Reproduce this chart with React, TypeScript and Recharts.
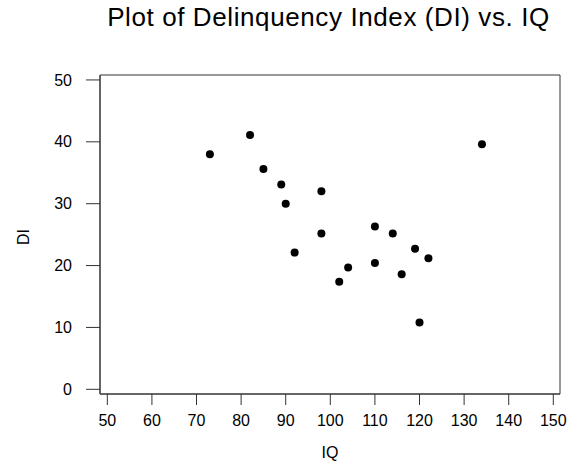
import React from "react";
import { ScatterChart, Scatter, XAxis, YAxis, ReferenceArea, Label } from "recharts";

const iqValues = [73, 82, 85, 89, 90, 92, 98, 98, 102, 104, 110, 110, 114, 116, 119, 120, 122, 134];
const diValues = [38.0, 41.1, 35.6, 33.1, 30.0, 22.1, 32.0, 25.2, 17.4, 19.7, 26.3, 20.4, 25.2, 18.6, 22.7, 10.8, 21.2, 39.6];
const xTicks = [50, 60, 70, 80, 90, 100, 110, 120, 130, 140, 150];
const yTicks = [0, 10, 20, 30, 40, 50];

const data = iqValues.map((iq, i) => ({ iq, di: diValues[i] }));

const FONT = "'Liberation Sans', Arial, sans-serif";
const X_DOMAIN: [number, number] = [48.36, 151.5];
const Y_DOMAIN: [number, number] = [-0.76, 50.8];

const Dot = (props: any) => <circle cx={props.cx} cy={props.cy} r={4} fill="#000" />;

export default function App() {
  return (
    <div style={{ position: "absolute", left: 0, top: 0, background: "#fff" }}>
      <ScatterChart width={567} height={466} margin={{ top: 75, right: 7, bottom: 0, left: 0 }}>
        <ReferenceArea
          x1={X_DOMAIN[0]}
          x2={X_DOMAIN[1]}
          y1={Y_DOMAIN[0]}
          y2={Y_DOMAIN[1]}
          fill="none"
          stroke="#333"
          strokeWidth={1}
          fillOpacity={0}
        />
        <XAxis
          dataKey="iq"
          type="number"
          domain={X_DOMAIN}
          ticks={xTicks}
          allowDataOverflow
          interval={0}
          height={72}
          tickSize={11}
          tickMargin={10}
          axisLine={{ stroke: "#333" }}
          tickLine={{ stroke: "#333" }}
          tick={{ fill: "#000", fontSize: 16, fontFamily: FONT }}
        >
          <Label value="IQ" position="insideBottom" offset={8} fill="#000" fontSize={16} fontFamily={FONT} />
        </XAxis>
        <YAxis
          dataKey="di"
          type="number"
          domain={Y_DOMAIN}
          ticks={yTicks}
          allowDataOverflow
          interval={0}
          width={100}
          tickSize={14}
          tickMargin={14}
          axisLine={{ stroke: "#333" }}
          tickLine={{ stroke: "#333" }}
          tick={{ fill: "#000", fontSize: 16, fontFamily: FONT }}
        />
        <Scatter data={data} shape={Dot} isAnimationActive={false} />
        <text x={328.5} y={26} textAnchor="middle" fontSize={26} fontFamily={FONT} letterSpacing={0.6} fill="#000">
          Plot of Delinquency Index (DI) vs. IQ
        </text>
        <text x={29} y={237} transform="rotate(-90 29 237)" textAnchor="middle" fontSize={16} fontFamily={FONT} fill="#000">
          DI
        </text>
      </ScatterChart>
    </div>
  );
}
